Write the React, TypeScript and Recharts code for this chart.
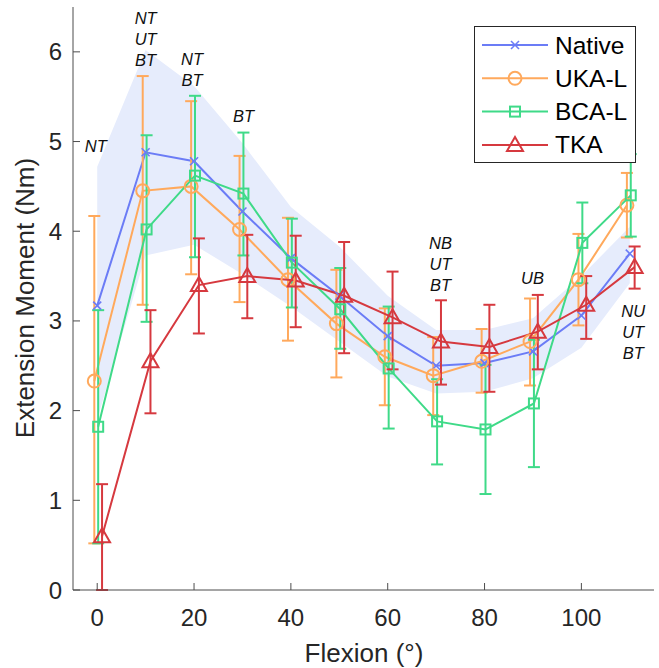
import React from 'react';
import { ComposedChart, Line, Area, XAxis, YAxis, ErrorBar, Scatter, Legend, Label } from 'recharts';

// ---- data ----
const flexion = [0, 10, 20, 30, 40, 50, 60, 70, 80, 90, 100, 110];

const nativeMean = [3.17, 4.88, 4.78, 4.22, 3.7, 3.28, 2.83, 2.5, 2.53, 2.66, 3.06, 3.75];
const nativeUpper = [4.72, 6.02, 5.62, 4.98, 4.27, 3.83, 3.28, 2.9, 2.9, 3.03, 3.5, 4.05];
const nativeLower = [1.9, 3.73, 3.85, 3.52, 3.16, 2.77, 2.38, 2.19, 2.21, 2.36, 2.7, 3.42];

const ukaMean = [2.33, 4.45, 4.5, 4.02, 3.46, 2.97, 2.6, 2.39, 2.55, 2.77, 3.46, 4.29];
const ukaUpper = [4.17, 5.73, 5.45, 4.84, 4.15, 3.57, 3.14, 2.82, 2.91, 3.25, 3.97, 4.65];
const ukaLower = [0.52, 3.18, 3.52, 3.21, 2.78, 2.37, 2.06, 1.95, 2.2, 2.28, 2.95, 3.93];

const bcaMean = [1.82, 4.02, 4.62, 4.42, 3.65, 3.13, 2.47, 1.88, 1.79, 2.08, 3.87, 4.4];
const bcaUpper = [3.12, 5.07, 5.51, 5.1, 4.14, 3.59, 3.16, 2.35, 2.51, 2.79, 4.32, 4.86];
const bcaLower = [0.52, 2.99, 3.71, 3.73, 3.15, 2.69, 1.8, 1.4, 1.07, 1.37, 3.42, 3.94];

const tkaMean = [0.6, 2.55, 3.4, 3.5, 3.45, 3.28, 3.04, 2.77, 2.71, 2.88, 3.18, 3.6];
const tkaUpper = [1.18, 3.12, 3.92, 3.96, 3.95, 3.88, 3.55, 3.23, 3.18, 3.29, 3.5, 3.83];
const tkaLower = [0.0, 1.97, 2.86, 3.03, 2.93, 2.64, 2.46, 2.29, 2.21, 2.46, 2.8, 3.36];

const annotX = [-0.3, 10, 19.6, 30.2, 70.9, 89.9, 110.7];
const annotY = [4.95, 6.38, 5.92, 5.28, 3.87, 3.48, 3.11];
const annotText = [['NT'], ['NT', 'UT', 'BT'], ['NT', 'BT'], ['BT'], ['NB', 'UT', 'BT'], ['UB'], ['NU', 'UT', 'BT']];

const xTicks = [0, 20, 40, 60, 80, 100];
const yTicks = [0, 1, 2, 3, 4, 5, 6];
const seriesNames = ['Native', 'UKA-L', 'BCA-L', 'TKA'];

// ---- styles ----
const C_NATIVE = '#6B7CF6';
const C_UKA = '#FFA95C';
const C_BCA = '#3FDA88';
const C_TKA = '#D6393F';
const C_BAND = '#E6ECFC';
const C_TEXT = '#262626';
const FONT = '"Liberation Sans", Arial, Helvetica, sans-serif';

const OFF_UKA = -0.6;
const OFF_BCA = 0.2;
const OFF_TKA = 1.0;

const mainData = flexion.map((x, i) => ({
  x,
  native: nativeMean[i],
  band: [nativeLower[i], nativeUpper[i]],
}));

const mkSeries = (mean: number[], up: number[], lo: number[], off: number) =>
  flexion.map((x, i) => ({ x: x + off, y: mean[i], err: [mean[i] - lo[i], up[i] - mean[i]] }));

const ukaData = mkSeries(ukaMean, ukaUpper, ukaLower, OFF_UKA);
const bcaData = mkSeries(bcaMean, bcaUpper, bcaLower, OFF_BCA);
const tkaData = mkSeries(tkaMean, tkaUpper, tkaLower, OFF_TKA);

const annotData = annotX.map((x, i) => ({ x, y: annotY[i], lines: annotText[i] }));

// ---- markers ----
const xMarkShape = (cx: number, cy: number, color: string, k?: any) => (
  <g key={k}>
    <line x1={cx - 4} y1={cy - 4} x2={cx + 4} y2={cy + 4} stroke={color} strokeWidth={1.6} />
    <line x1={cx - 4} y1={cy + 4} x2={cx + 4} y2={cy - 4} stroke={color} strokeWidth={1.6} />
  </g>
);
const circleShape = (cx: number, cy: number, color: string, k?: any) => (
  <circle key={k} cx={cx} cy={cy} r={6.5} fill="none" stroke={color} strokeWidth={2} />
);
const squareShape = (cx: number, cy: number, color: string, k?: any) => (
  <rect key={k} x={cx - 5} y={cy - 5} width={10} height={10} fill="none" stroke={color} strokeWidth={2} />
);
const triShape = (cx: number, cy: number, color: string, k?: any) => (
  <polygon
    key={k}
    points={`${cx},${cy - 8} ${cx - 8},${cy + 6} ${cx + 8},${cy + 6}`}
    fill="none"
    stroke={color}
    strokeWidth={2}
    strokeLinejoin="miter"
  />
);

const dotFn = (shape: any, color: string) => (p: any) => {
  if (p.cx == null || p.cy == null) return <g key={p.key ?? p.index} />;
  return shape(p.cx, p.cy, color, p.key ?? p.index);
};

const AnnotShape = (p: any) => {
  const { cx, cy, payload } = p;
  if (cx == null) return <g />;
  return (
    <g>
      {payload.lines.map((t: string, i: number) => (
        <text
          key={i}
          x={cx}
          y={cy + i * 21 + 6}
          textAnchor="middle"
          fontSize={16.5}
          fontStyle="italic"
          fontFamily={FONT}
          fill="#111"
        >
          {t}
        </text>
      ))}
    </g>
  );
};

const legendShapes = [xMarkShape, circleShape, squareShape, triShape];
const legendColors = [C_NATIVE, C_UKA, C_BCA, C_TKA];

const renderLegend = () => (
  <div
    style={{
      width: 162,
      height: 137,
      boxSizing: 'border-box',
      border: `1px solid ${C_TEXT}`,
      background: '#fff',
    }}
  >
    <svg width={160} height={135} style={{ display: 'block' }}>
      {seriesNames.map((n, i) => {
        const y = 18 + i * 33.3;
        return (
          <g key={n}>
            <line x1={7} y1={y} x2={73} y2={y} stroke={legendColors[i]} strokeWidth={2} />
            {legendShapes[i](40, y, legendColors[i])}
            <text x={80} y={y + 8.5} fontSize={24.5} fontFamily={FONT} fill="#000">
              {n}
            </text>
          </g>
        );
      })}
    </svg>
  </div>
);

const YLabel = () => (
  <text
    x={34}
    y={298}
    transform="rotate(-90 34 298)"
    textAnchor="middle"
    fontSize={26}
    fontFamily={FONT}
    fill={C_TEXT}
  >
    Extension Moment (Nm)
  </text>
);

const XLabel = () => (
  <text x={364} y={662} textAnchor="middle" fontSize={26} fontFamily={FONT} fill={C_TEXT}>
    Flexion (°)
  </text>
);

export default function App() {
  return (
    <div style={{ position: 'absolute', left: 0, top: 0, width: 659, height: 668, background: '#fff' }}>
      <ComposedChart
        width={659}
        height={668}
        data={mainData}
        margin={{ top: 7, right: 5, left: 23, bottom: 0 }}
      >
        <XAxis
          dataKey="x"
          type="number"
          domain={[-5, 115]}
          allowDataOverflow
          ticks={xTicks}
          height={78}
          tickSize={-7}
          tickMargin={26}
          stroke="#4d4d4d"
          tick={{ fill: C_TEXT, fontSize: 24, fontFamily: FONT }}
        >
          <Label content={XLabel} />
        </XAxis>
        <YAxis
          type="number"
          domain={[0, 6.5]}
          allowDataOverflow
          ticks={yTicks}
          width={50}
          tickSize={-7}
          tickMargin={18}
          stroke="#4d4d4d"
          tick={{ fill: C_TEXT, fontSize: 24, fontFamily: FONT }}
        >
          <Label content={YLabel} />
        </YAxis>
        <Area
          dataKey="band"
          type="linear"
          fill={C_BAND}
          fillOpacity={1}
          stroke="none"
          isAnimationActive={false}
          activeDot={false}
        />
        <Line
          dataKey="native"
          type="linear"
          stroke={C_NATIVE}
          strokeWidth={2}
          dot={dotFn(xMarkShape, C_NATIVE)}
          activeDot={false}
          isAnimationActive={false}
        />
        <Line
          data={ukaData}
          dataKey="y"
          type="linear"
          stroke={C_UKA}
          strokeWidth={2}
          dot={dotFn(circleShape, C_UKA)}
          activeDot={false}
          isAnimationActive={false}
        >
          <ErrorBar dataKey="err" direction="y" width={6} stroke={C_UKA} strokeWidth={2} isAnimationActive={false} />
        </Line>
        <Line
          data={bcaData}
          dataKey="y"
          type="linear"
          stroke={C_BCA}
          strokeWidth={2}
          dot={dotFn(squareShape, C_BCA)}
          activeDot={false}
          isAnimationActive={false}
        >
          <ErrorBar dataKey="err" direction="y" width={6} stroke={C_BCA} strokeWidth={2} isAnimationActive={false} />
        </Line>
        <Line
          data={tkaData}
          dataKey="y"
          type="linear"
          stroke={C_TKA}
          strokeWidth={2}
          dot={dotFn(triShape, C_TKA)}
          activeDot={false}
          isAnimationActive={false}
        >
          <ErrorBar dataKey="err" direction="y" width={6} stroke={C_TKA} strokeWidth={2} isAnimationActive={false} />
        </Line>
        <Scatter data={annotData} dataKey="y" shape={AnnotShape} isAnimationActive={false} legendType="none" />
        <Legend
          layout="vertical"
          align="center"
          verticalAlign="middle"
          content={renderLegend}
          wrapperStyle={{ position: 'absolute', left: 474, top: 26, width: 162, height: 137 }}
        />
      </ComposedChart>
    </div>
  );
}
